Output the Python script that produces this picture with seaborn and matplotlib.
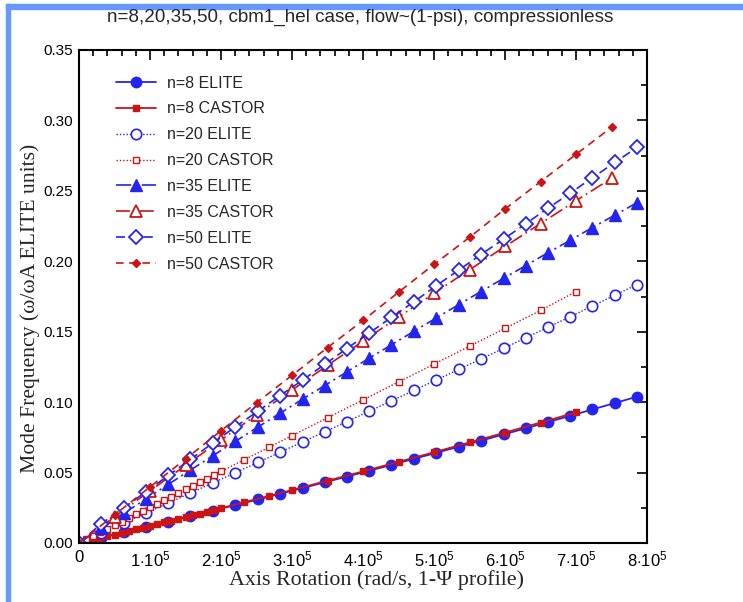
import matplotlib
matplotlib.use("Agg")
import matplotlib.pyplot as plt
import seaborn as sns
from matplotlib.patches import Rectangle
from matplotlib.ticker import MultipleLocator, FuncFormatter

# ---------------- data (x in units of 1e5 rad/s) ----------------
x_elite = [0, 0.31, 0.63, 0.94, 1.26, 1.57, 1.89, 2.20, 2.52, 2.83, 3.15, 3.46, 3.77,
           4.09, 4.40, 4.72, 5.03, 5.35, 5.66, 5.98, 6.29, 6.60, 6.92, 7.23, 7.55, 7.86]
x_castor_fine = [0, 0.1, 0.2, 0.3, 0.4, 0.5, 0.6, 0.7, 0.8, 0.9, 1.0, 1.1, 1.2, 1.3, 1.4,
                 1.5, 1.6, 1.7, 1.8, 1.9, 2.0, 2.33, 2.67, 3.0, 3.5, 4.0, 4.5, 5.0, 5.5,
                 6.0, 6.5, 7.0]
x_castor_coarse = [0, 0.5, 1.0, 1.5, 2.0, 2.5, 3.0, 3.5, 4.0, 4.5, 5.0, 5.5, 6.0, 6.5,
                   7.0, 7.5]

y_n8_elite = [0, 0.0037, 0.0075, 0.0113, 0.0152, 0.0190, 0.0230, 0.0269, 0.0309, 0.0349,
              0.0390, 0.0431, 0.0471, 0.0513, 0.0555, 0.0598, 0.0640, 0.0684, 0.0726,
              0.0771, 0.0814, 0.0858, 0.0903, 0.0948, 0.0994, 0.1039]
y_n8_castor = [0, 0.0012, 0.0024, 0.0036, 0.0048, 0.0060, 0.0073, 0.0085, 0.0097, 0.0109,
               0.0122, 0.0134, 0.0147, 0.0159, 0.0171, 0.0184, 0.0197, 0.0209, 0.0222,
               0.0234, 0.0247, 0.0290, 0.0333, 0.0376, 0.0442, 0.0508, 0.0576, 0.0644,
               0.0714, 0.0784, 0.0855, 0.0927]
y_n20_elite = [0, 0.0069, 0.0142, 0.0212, 0.0284, 0.0355, 0.0428, 0.0499, 0.0572, 0.0644,
               0.0718, 0.0789, 0.0861, 0.0936, 0.1009, 0.1084, 0.1157, 0.1233, 0.1306,
               0.1382, 0.1456, 0.1531, 0.1607, 0.1682, 0.1760, 0.1835]
y_n20_castor = [0, 0.0025, 0.0051, 0.0076, 0.0102, 0.0127, 0.0152, 0.0178, 0.0203, 0.0229,
                0.0254, 0.0279, 0.0305, 0.0330, 0.0356, 0.0381, 0.0406, 0.0432, 0.0457,
                0.0483, 0.0508, 0.0592, 0.0678, 0.0762, 0.0889, 0.1016, 0.1143, 0.1270,
                0.1397, 0.1524, 0.1651, 0.1785]
y_n35_elite = [0, 0.0104, 0.0210, 0.0312, 0.0417, 0.0518, 0.0621, 0.0721, 0.0823, 0.0921,
               0.1022, 0.1118, 0.1214, 0.1313, 0.1407, 0.1504, 0.1597, 0.1693, 0.1785,
               0.1879, 0.1969, 0.2059, 0.2150, 0.2239, 0.2329, 0.2416]
y_n35_castor = [0, 0.0186, 0.0370, 0.0551, 0.0731, 0.0910, 0.1086, 0.1261, 0.1433, 0.1604,
                0.1773, 0.1940, 0.2105, 0.2268, 0.2430, 0.2589]
y_n50_elite = [0, 0.0135, 0.0250, 0.0362, 0.0480, 0.0594, 0.0712, 0.0824, 0.0936, 0.1046,
               0.1157, 0.1268, 0.1380, 0.1491, 0.1602, 0.1713, 0.1826, 0.1938, 0.2048,
               0.2157, 0.2266, 0.2375, 0.2484, 0.2593, 0.2702, 0.2809]
y_n50_castor = [0, 0.0199, 0.0398, 0.0596, 0.0797, 0.0996, 0.1190, 0.1387, 0.1580, 0.1780,
                0.1978, 0.2170, 0.2371, 0.2565, 0.2759, 0.2951]

labels = ["n=8 ELITE", "n=8 CASTOR", "n=20 ELITE", "n=20 CASTOR",
          "n=35 ELITE", "n=35 CASTOR", "n=50 ELITE", "n=50 CASTOR"]

title = "n=8,20,35,50, cbm1_hel case, flow~(1-psi), compressionless"
xlabel = "Axis Rotation (rad/s, 1-\u03a8 profile)"
ylabel = "Mode Frequency (\u03c9/\u03c9A ELITE units)"

# ---------------- style ----------------
sns.set_style("white")
plt.rcParams["font.family"] = ["Liberation Sans", "DejaVu Sans"]
plt.rcParams["mathtext.fontset"] = "custom"
plt.rcParams["mathtext.rm"] = "Liberation Sans"
plt.rcParams["mathtext.it"] = "Liberation Sans:italic"
plt.rcParams["mathtext.bf"] = "Liberation Sans:bold"
plt.rcParams["lines.scale_dashes"] = False

BLUE = "#2424f0"
RED = "#cc1414"

fig = plt.figure(figsize=(7.43, 6.02), dpi=100)
ax = fig.add_axes([79 / 743, 1 - 543 / 602, 568 / 743, 493 / 602])

series = [
    (x_elite, y_n8_elite, BLUE, "o", 7.5, True, "-", 1.3, 1.0),
    (x_castor_fine, y_n8_castor, RED, "s", 4.3, True, "-", 1.3, 1.0),
    (x_elite, y_n20_elite, BLUE, "o", 7.5, False, (0, (1.0, 1.4)), 1.0, 1.2),
    (x_castor_fine, y_n20_castor, RED, "s", 3.8, False, (0, (1.0, 1.4)), 1.0, 1.0),
    (x_elite, y_n35_elite, BLUE, "^", 8.5, True, (0, (11, 3, 1.5, 3)), 1.2, 1.0),
    (x_castor_coarse, y_n35_castor, RED, "^", 8.0, False, (0, (10, 3, 1.2, 3)), 1.2, 1.3),
    (x_elite, y_n50_elite, BLUE, "D", 7.2, False, (0, (6.5, 3.5)), 1.2, 1.3),
    (x_castor_coarse, y_n50_castor, RED, "D", 4.2, True, (0, (5.5, 4)), 1.2, 1.0),
]

for (xs, ys, col, mk, ms, filled, ls, lw, mew), lab in zip(series, labels):
    sns.lineplot(x=xs, y=ys, ax=ax, color=col, marker=mk, markersize=ms,
                 markerfacecolor=col if filled else "white", markeredgecolor=col,
                 markeredgewidth=mew, linestyle=ls, linewidth=lw, label=lab,
                 sort=False, estimator=None)

ax.set_xlim(0, 8)
ax.set_ylim(0, 0.35)
ax.xaxis.set_major_locator(MultipleLocator(1))
ax.xaxis.set_minor_locator(MultipleLocator(0.2))
ax.yaxis.set_major_locator(MultipleLocator(0.05))
ax.yaxis.set_minor_locator(MultipleLocator(0.025))
ax.xaxis.set_major_formatter(FuncFormatter(
    lambda v, p: "0" if abs(v) < 1e-9 else r"$%d{\cdot}10^{5}$" % round(v)))
ax.yaxis.set_major_formatter(FuncFormatter(lambda v, p: "%.2f" % v))
ax.tick_params(which="both", direction="in", top=True, right=True,
               color="black", width=1.2, labelsize=11, labelcolor="black")
ax.tick_params(axis="x", labelsize=12)
ax.tick_params(which="major", length=7)
ax.tick_params(which="minor", length=4)
ax.tick_params(axis="x", pad=5)
ax.tick_params(axis="y", pad=4)
for s in ax.spines.values():
    s.set_color("black")
    s.set_linewidth(1.5)
ax.set_xlabel("")
ax.set_ylabel("")

leg = ax.legend(loc="upper left", bbox_to_anchor=(0.065, 0.948), frameon=False,
                fontsize=11.5, handlelength=2.5, handletextpad=0.7,
                labelspacing=0.68, borderpad=0, borderaxespad=0)

fig.text(360 / 743, 1 - 17 / 602, title, ha="center", va="center", fontsize=13.6)
fig.text(376 / 743, 1 - 580 / 602, xlabel, ha="center", va="center",
         fontsize=15.8, family=["Liberation Serif", "DejaVu Serif"])
fig.text(30 / 743, 1 - 308 / 602, ylabel, ha="center", va="center", rotation=90,
         fontsize=15.6, family=["Liberation Serif", "DejaVu Serif"])

# light blue frame strips (top and left)
fig.patches.append(Rectangle((6 / 743, 1 - 9 / 602), 1 - 6 / 743, 5 / 602,
                             transform=fig.transFigure, color="#6699ff", zorder=-1))
fig.patches.append(Rectangle((6 / 743, 0), 4 / 743, 1 - 4 / 602,
                             transform=fig.transFigure, color="#6699ff", zorder=-1))

fig.savefig("out.png", dpi=100)
